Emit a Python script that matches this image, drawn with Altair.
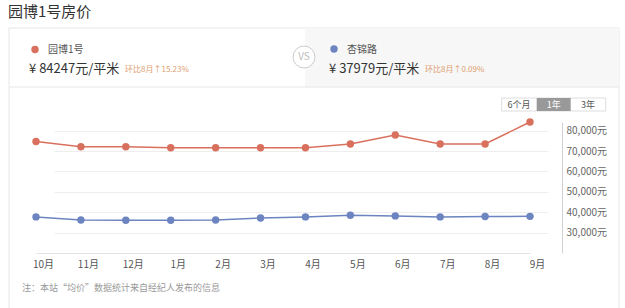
import altair as alt
import pandas as pd

months = ["10月", "11月", "12月", "1月", "2月", "3月", "4月", "5月", "6月", "7月", "8月", "9月"]
yuanbo = [74700, 72100, 72100, 71600, 71600, 71600, 71600, 73450, 77900, 73450, 73450, 84247]
xingjin = [37700, 36200, 36050, 36100, 36200, 37200, 37700, 38500, 38200, 37700, 37900, 37979]
series_names = ["园博1号", "杏锦路"]
y_ticks = [30000, 40000, 50000, 60000, 70000, 80000]

FONT = "Noto Sans CJK SC"
RED = "#d9705d"
BLUE = "#6c84c0"

rows = []
for name, vals in zip(series_names, [yuanbo, xingjin]):
    for m, v in zip(months, vals):
        rows.append({"month": m, "series": name, "price": v})
df = pd.DataFrame(rows)

x = alt.X("month:O", sort=months,
          scale=alt.Scale(domain=months, range=[14, 508], padding=0),
          axis=alt.Axis(title=None, labelAngle=0, labelOffset=7, ticks=False,
                        domainColor="#e3e3e3", grid=False, labelColor="#555",
                        labelFontSize=10, labelPadding=6, labelFont=FONT))
y = alt.Y("price:Q",
          scale=alt.Scale(domain=[20000, 84247], nice=False, zero=False),
          axis=alt.Axis(orient="right", title=None, values=y_ticks,
                        labelExpr="format(datum.value, ',') + '元'", ticks=False,
                        domainColor="#d0d0d0", gridColor="#eeeeee", labelColor="#666",
                        labelFontSize=10, labelPadding=4, labelFont=FONT))
color = alt.Color("series:N", scale=alt.Scale(domain=series_names, range=[RED, BLUE]), legend=None)

lines = alt.Chart(df).mark_line(strokeWidth=1.5).encode(x=x, y=y, color=color)
points = alt.Chart(df).mark_circle(size=55, opacity=1).encode(x=x, y=y, color=color)

one = pd.DataFrame({"k": [0]})

def txt(text, px, py, size, col, align="left"):
    return alt.Chart(one).mark_text(text=text, align=align, baseline="middle",
                                    fontSize=size, color=col, font=FONT).encode(
        x=alt.value(px), y=alt.value(py))

def box(x1, x2, y1, y2, fill="transparent", stroke=None):
    kw = dict(fill=fill)
    if stroke:
        kw.update(stroke=stroke, strokeWidth=1)
    return alt.Chart(one).mark_rect(**kw).encode(
        x=alt.value(x1), x2=alt.value(x2), y=alt.value(y1), y2=alt.value(y2))

def hline(x1, x2, yy, col):
    return alt.Chart(one).mark_rule(color=col, strokeWidth=1).encode(
        x=alt.value(x1), x2=alt.value(x2), y=alt.value(yy))

def dot(px, py, col, size):
    return alt.Chart(one).mark_circle(color=col, size=size, opacity=1).encode(
        x=alt.value(px), y=alt.value(py))

# offsets: plot origin at (22, 122)
deco_back = [
    box(-13, 597, -94, 190, fill="transparent", stroke="#e6e6e6"),
    box(283, 597, -94, -35, fill="#f7f7f7"),
    hline(-13, 597, -35, "#e6e6e6"),
]

vs_circle = alt.Chart(one).mark_point(shape="circle", size=480, fill="white", stroke="#cccccc",
                                      strokeWidth=1, opacity=1, fillOpacity=1).encode(
    x=alt.value(282), y=alt.value(-65))

deco_front = [
    txt("园博1号房价", -14, -110, 15, "#333333"),
    vs_circle,
    txt("VS", 282, -65, 10, "#bbbbbb", align="center"),
    dot(13, -72.5, RED, 55),
    txt("园博1号", 26, -72, 10, "#555555"),
    txt("¥ 84247元/平米", 7, -53, 13, "#333333"),
    txt("环比8月↑15.23%", 103, -52, 8, "#e0a070"),
    dot(312, -73, BLUE, 55),
    txt("杏锦路", 325, -72, 10, "#555555"),
    txt("¥ 37979元/平米", 307, -53, 13, "#333333"),
    txt("环比8月↑0.09%", 403, -52, 8, "#e0a070"),
    box(479.7, 583.7, -24, -11, fill="white", stroke="#dddddd"),
    box(514.7, 548.7, -24, -11, fill="#999999"),
    txt("6个月", 497, -17.5, 9, "#555555", align="center"),
    txt("1年", 531.7, -17.5, 9, "white", align="center"),
    txt("3年", 566, -17.5, 9, "#555555", align="center"),
    txt("注：本站“均价”数据统计来自经纪人发布的信息", 0, 166, 9, "#999999"),
]

chart = alt.layer(*deco_back, lines, points, *deco_front).properties(
    width=540, height=131,
    padding={"left": 22, "top": 122, "right": 63, "bottom": 55},
    autosize="none",
    background="white",
).configure_view(stroke=None)

chart.save("out.html", embed_options={"renderer": "svg", "actions": False})
